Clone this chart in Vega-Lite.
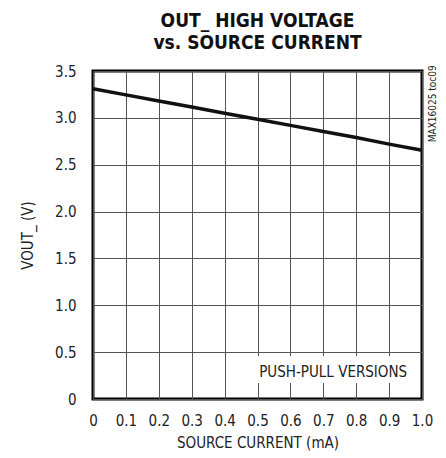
{
  "$schema": "https://vega.github.io/schema/vega-lite/v6.json",
  "width": 329,
  "height": 328,
  "autosize": {"type": "none"},
  "padding": {"left": 93, "top": 71, "right": 24, "bottom": 59},
  "background": "white",
  "config": {
    "font": "DejaVu Sans Condensed",
    "view": {"stroke": "black", "strokeWidth": 3},
    "axis": {
      "labelFont": "DejaVu Sans Condensed",
      "titleFont": "DejaVu Sans Condensed",
      "labelFontSize": 15,
      "titleFontSize": 15,
      "labelColor": "#222",
      "titleColor": "#222",
      "titleFontWeight": "normal",
      "gridColor": "#555",
      "gridWidth": 1,
      "gridOpacity": 1,
      "ticks": false,
      "domain": false,
      "labelOverlap": false,
      "labelFlush": false
    }
  },
  "title": {
    "text": ["OUT_ HIGH VOLTAGE", "vs. SOURCE CURRENT"],
    "font": "DejaVu Sans Condensed",
    "fontSize": 19,
    "fontWeight": "bold",
    "color": "#111",
    "anchor": "middle",
    "lineHeight": 22,
    "offset": 11
  },
  "datasets": {
    "curve": [
      {"i": 0.0, "v": 3.31},
      {"i": 0.1, "v": 3.245},
      {"i": 0.2, "v": 3.18},
      {"i": 0.3, "v": 3.115},
      {"i": 0.4, "v": 3.05},
      {"i": 0.5, "v": 2.985},
      {"i": 0.6, "v": 2.92},
      {"i": 0.7, "v": 2.855},
      {"i": 0.8, "v": 2.79},
      {"i": 0.9, "v": 2.72},
      {"i": 1.0, "v": 2.655}
    ],
    "box": [{"x1": 0.46, "x2": 0.99, "y1": 0.17, "y2": 0.46}],
    "label": [{"x": 0.73, "y": 0.29, "t": "PUSH-PULL VERSIONS"}],
    "side": [{"x": 1.032, "y": 2.74, "t": "MAX16025 toc09"}]
  },
  "layer": [
    {
      "data": {"name": "curve"},
      "mark": {"type": "line", "color": "#111", "strokeWidth": 3.5},
      "encoding": {
        "x": {
          "field": "i", "type": "quantitative",
          "scale": {"domain": [0, 1]},
          "axis": {
            "values": [0, 0.1, 0.2, 0.3, 0.4, 0.5, 0.6, 0.7, 0.8, 0.9, 1.0],
            "tickCount": 20,
            "labelExpr": "datum.value == 0 ? '0' : format(datum.value, '.1f')",
            "labelPadding": 14,
            "title": "SOURCE CURRENT (mA)",
            "titlePadding": 7
          }
        },
        "y": {
          "field": "v", "type": "quantitative",
          "scale": {"domain": [0, 3.5]},
          "axis": {
            "values": [0, 0.5, 1, 1.5, 2, 2.5, 3, 3.5],
            "tickCount": 20,
            "labelExpr": "datum.value == 0 ? '0' : format(datum.value, '.1f')",
            "labelPadding": 17,
            "title": "VOUT_ (V)",
            "titlePadding": 19
          }
        }
      }
    },
    {
      "data": {"name": "box"},
      "mark": {"type": "rect", "color": "white"},
      "encoding": {
        "x": {"field": "x1", "type": "quantitative"},
        "x2": {"field": "x2"},
        "y": {"field": "y1", "type": "quantitative"},
        "y2": {"field": "y2"}
      }
    },
    {
      "data": {"name": "label"},
      "mark": {"type": "text", "fontSize": 15, "color": "#222", "font": "DejaVu Sans Condensed", "baseline": "middle", "align": "center"},
      "encoding": {
        "x": {"field": "x", "type": "quantitative"},
        "y": {"field": "y", "type": "quantitative"},
        "text": {"field": "t"}
      }
    },
    {
      "data": {"name": "side"},
      "mark": {"type": "text", "fontSize": 10, "color": "#222", "font": "DejaVu Sans Condensed", "angle": 270, "align": "left", "baseline": "middle"},
      "encoding": {
        "x": {"field": "x", "type": "quantitative"},
        "y": {"field": "y", "type": "quantitative"},
        "text": {"field": "t"}
      }
    }
  ]
}
